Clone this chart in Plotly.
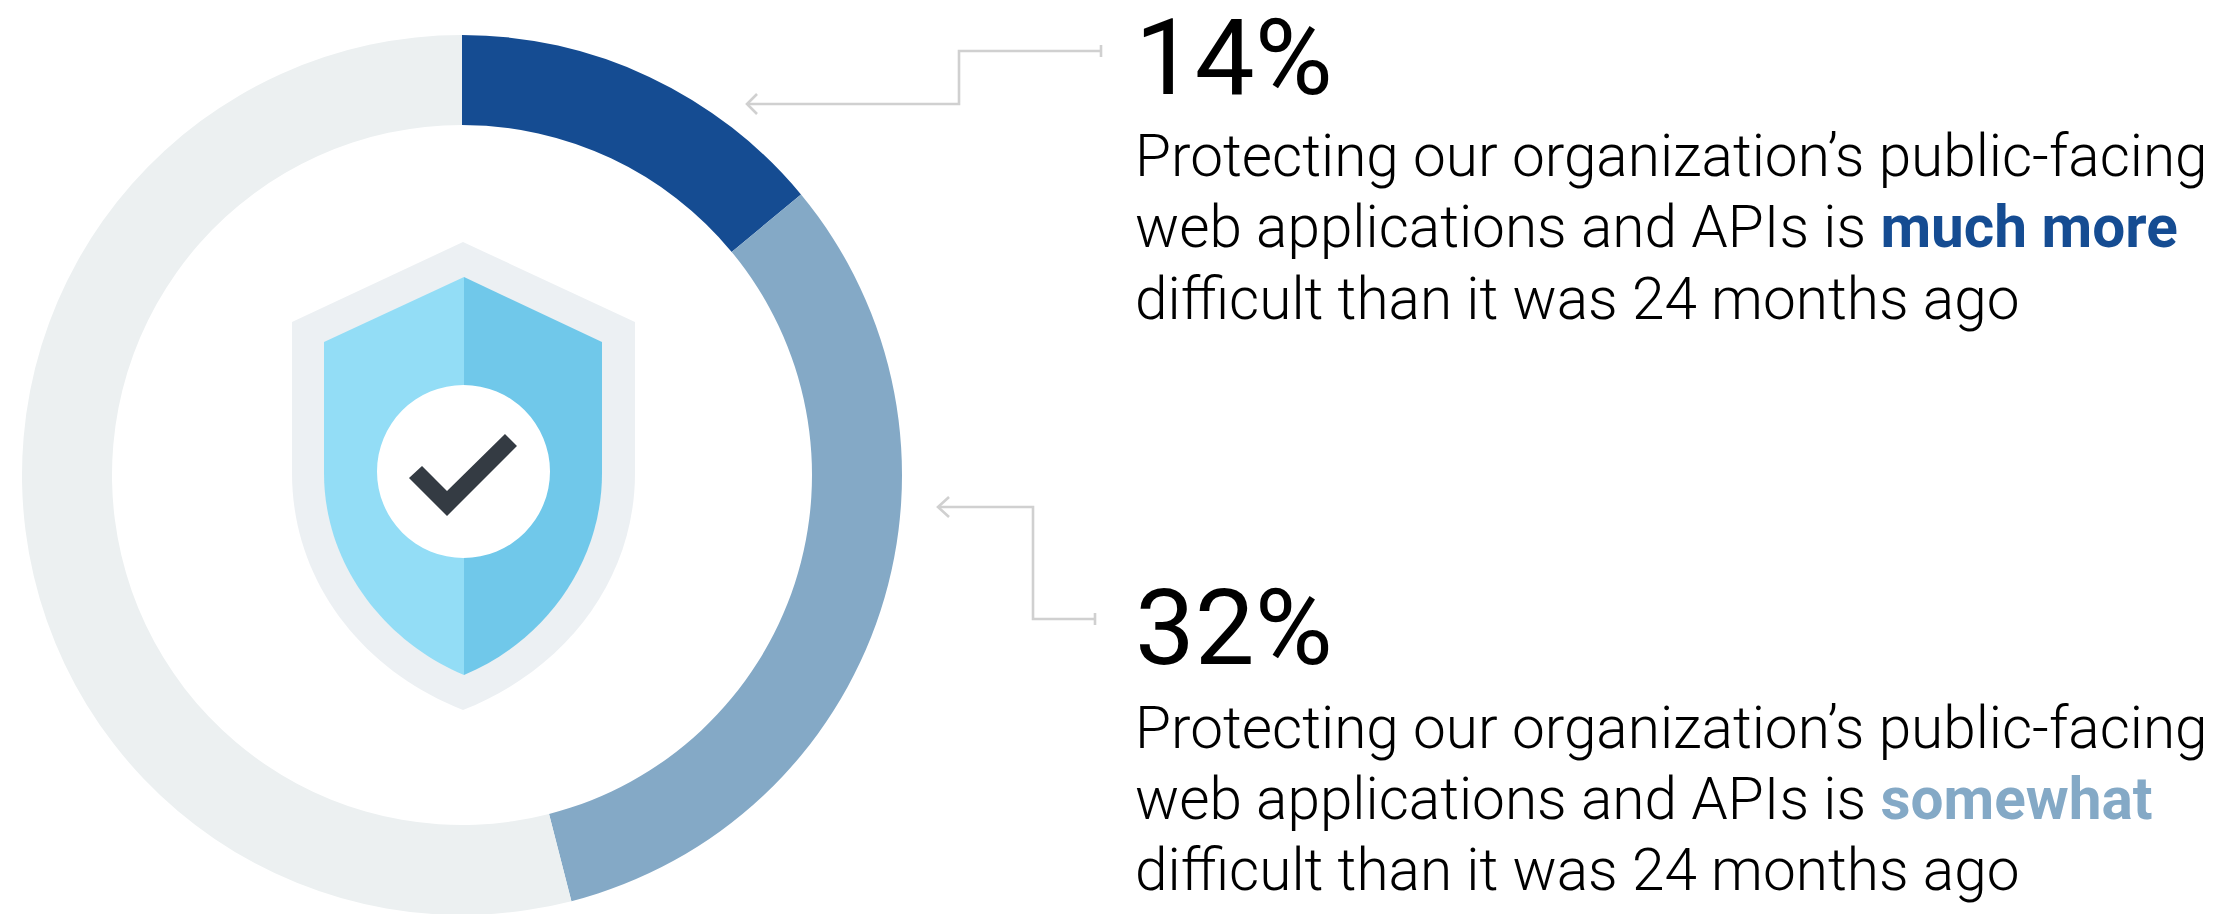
import plotly.graph_objects as go

W, H = 2214, 920

segments = ["Much more difficult", "Somewhat difficult", "Other"]
shares = [14, 32, 54]
segment_colors = ["#154C92", "#84A9C6", "#ECF0F1"]

headlines = ["14%", "32%"]
line_1 = "Protecting our organization’s public-facing"
line_2 = "web applications and APIs is "
line_3 = "difficult than it was 24 months ago"
emphasis = ["much more", "somewhat"]
emphasis_colors = ["#154C92", "#84A9C6"]


def px(x):
    return x / W


def py(y):
    return 1 - y / H


def path(cmds):
    out = []
    for c in cmds:
        if isinstance(c, str):
            out.append(c)
        else:
            out.append(f"{px(c[0]):.5f},{py(c[1]):.5f}")
    return " ".join(out)


def shape(cmds, fill=None, line=None, lw=0):
    d = dict(type="path", xref="paper", yref="paper", path=path(cmds), layer="above")
    d["fillcolor"] = fill if fill else "rgba(0,0,0,0)"
    d["line"] = dict(color=line, width=lw) if line else dict(width=0)
    return d


GREY = "#D0D0D0"
shapes = [
    shape(["M", (463, 242), "L", (635, 322), "L", (635, 473), "C", (635, 580), (565, 670), (463, 710),
           "C", (361, 670), (292, 580), (292, 473), "L", (292, 322), "Z"], fill="#ECF0F3"),
    shape(["M", (464, 277), "L", (324, 342), "L", (324, 473), "C", (324, 565), (385, 642), (464, 675), "Z"], fill="#93DDF6"),
    shape(["M", (464, 277), "L", (602, 342), "L", (602, 473), "C", (602, 565), (543, 642), (464, 675), "Z"], fill="#70C8EA"),
    dict(type="circle", xref="paper", yref="paper", x0=px(377), x1=px(550), y0=py(385), y1=py(558),
         fillcolor="#FFFFFF", line=dict(width=0), layer="above"),
    shape(["M", (409, 478), "L", (422, 466), "L", (447, 491), "L", (505, 434), "L", (517, 446), "L", (447, 516), "Z"], fill="#343B43"),
    # connectors
    shape(["M", (1101, 51), "L", (959, 51), "L", (959, 104), "L", (747, 104)], line=GREY, lw=2.6),
    shape(["M", (757, 94), "L", (747, 104), "L", (757, 114)], line=GREY, lw=2.6),
    shape(["M", (1101, 45), "L", (1101, 57)], line=GREY, lw=2.6),
    shape(["M", (1095, 619), "L", (1033, 619), "L", (1033, 507), "L", (938, 507)], line=GREY, lw=2.6),
    shape(["M", (949, 497), "L", (938, 507), "L", (949, 517)], line=GREY, lw=2.6),
    shape(["M", (1095, 613), "L", (1095, 625)], line=GREY, lw=2.6),
]

FONT = "Roboto"
BIG = 106.5
BODY = 58.5


def text(x, baseline, s, size, weight=300):
    return dict(xref="paper", yref="paper", x=px(x), y=py(baseline + size * 0.24),
                xanchor="left", yanchor="bottom", showarrow=False, text=s, align="left",
                font=dict(family=FONT, size=size, color="#000000", weight=weight),
                borderpad=0, borderwidth=0)


def bold(s, c):
    return f'<span style="color:{c};font-weight:700"><b>{s}</b></span>'


annotations = []
for i, (big_base, base1, base2, base3) in enumerate([(94, 176, 247, 319), (664, 748, 819, 890)]):
    annotations += [
        text(1135, big_base, headlines[i], BIG, weight=400),
        text(1135, base1, line_1, BODY),
        text(1135, base2, line_2 + bold(emphasis[i], emphasis_colors[i]), BODY),
        text(1135, base3, line_3, BODY),
    ]

R = 440
CX, CY = 462, 475
fig = go.Figure(go.Pie(
    labels=segments, values=shares, sort=False, direction="clockwise", rotation=0,
    hole=350 / 440, textinfo="none", showlegend=False,
    marker=dict(colors=segment_colors, line=dict(width=0)),
    domain=dict(x=[px(CX - R), px(CX + R)], y=[py(CY + R), py(CY - R)]),
))
fig.update_layout(width=W, height=H, margin=dict(l=0, r=0, t=0, b=0), paper_bgcolor="#FFFFFF",
                  shapes=shapes, annotations=annotations, showlegend=False,
                  font=dict(family=FONT))
fig.write_html("out.html", config=dict(displayModeBar=False),
               post_script="document.body.style.margin='0';document.documentElement.style.overflow='hidden';document.body.style.overflow='hidden';")
